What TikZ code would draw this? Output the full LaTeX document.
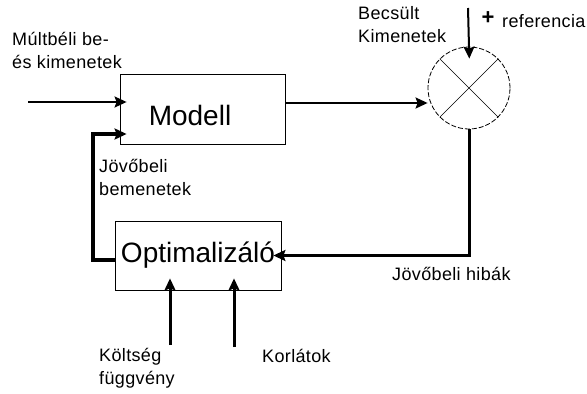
\documentclass[tikz,border=0pt]{standalone}
\usepackage{fontspec}
\setmainfont{Liberation Sans}
\newfontfamily\lblfont[LetterSpace=2]{Liberation Sans}
\usepackage{tikz}
\usetikzlibrary{positioning,arrows.meta}

\begin{document}
\begin{tikzpicture}[
    x=1pt, y=-1pt,
    block/.style={draw, line width=0.8pt, inner sep=0pt, font=\fontsize{28}{34}\selectfont},
    arrow/.style={-{Stealth[length=12pt,width=11pt,inset=2pt]}, line width=2pt},
    heavy/.style={arrow, line width=3pt},
    lbl/.style={inner sep=0pt, anchor=base west, align=left, font=\lblfont\fontsize{18}{23}\selectfont}
]
\useasboundingbox (0,0) rectangle (587,394);

% blocks
\node[block, minimum width=165pt, minimum height=70pt, text height=32pt, text depth=0pt] (modell) at (202.5,109) {Modell\hspace*{25pt}};
\node[block, minimum width=166pt, minimum height=69pt] (optim) at (198,255.5) {Optimalizáló};
\node[draw, circle, dash pattern=on 5pt off 2pt, line width=0.8pt, minimum size=82pt, inner sep=0pt] (sum) at (469,88) {};
\draw[line width=0.6pt] (sum.north west) -- (sum.south east) (sum.north east) -- (sum.south west);

% labels (base = last line)
\node[lbl] (past) at (12,68) {Múltbéli be-\\és kimenetek};
\node[lbl] (est) at (358,42) {Becsült\\Kimenetek};
\node[inner sep=0pt, font=\fontsize{22}{22}\selectfont\bfseries] (plus) at (488,18) {+};
\node[lbl] (ref) at (502,27) {referencia};
\node[lbl] (futin) at (99,195) {Jövőbeli\\bemenetek};
\node[lbl] (err) at (392,280) {Jövőbeli hibák};
\node[lbl] (costlbl) at (99,384) {Költség\\függvény};
\node[lbl] (limlbl) at (262,362) {Korlátok};

% free ends
\coordinate (in) at (28,102);
\coordinate (reftop) at (468,8);
\coordinate (cost) at (170,345);
\coordinate (lim) at (234,347);

% connectors
\draw[arrow, shorten >=-7pt] (in) -- (in -| modell.west);
\draw[arrow] ([yshift=6pt]modell.east) -- ([yshift=6pt]modell.east -| sum.west);
\draw[arrow, shorten >=-12pt] (reftop) -- (sum.north);
\draw[heavy, shorten >=-8pt] (sum.south) |- (optim.east);
\draw[heavy, line width=4pt, shorten >=-7pt] ([yshift=-4pt]optim.west) -- ++(-22,0) |- ([yshift=-25pt]modell.west);
\draw[heavy, shorten >=-12pt] (cost) -- (cost |- optim.south);
\draw[heavy, shorten >=-12pt] (lim) -- (lim |- optim.south);

\end{tikzpicture}
\end{document}
